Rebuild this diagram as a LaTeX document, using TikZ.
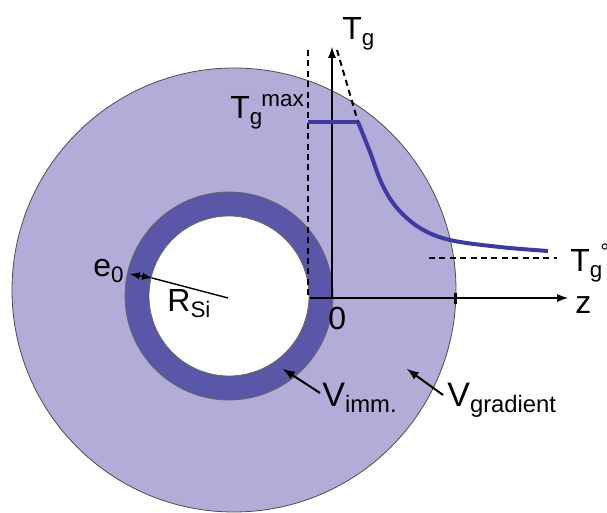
\documentclass[tikz,border=0pt]{standalone}
\usepackage{fontspec}
\setmainfont{Liberation Sans}
\usepackage{tikz}
\usetikzlibrary{shapes,arrows,positioning}
\definecolor{gradfill}{RGB}{178,172,216}
\definecolor{immfill}{RGB}{90,86,168}
\definecolor{profile}{RGB}{62,58,160}
\newcommand{\lbl}{\fontsize{16}{19}\selectfont}
\newcommand{\lblbig}{\fontsize{17}{20}\selectfont}

\begin{document}
\begin{tikzpicture}[x=0.5pt,y=-0.5pt,
  lab/.style={anchor=base west,inner sep=0pt,font=\lbl},
  vlab/.style={anchor=base west,inner sep=0pt,font=\lblbig},
  pointer/.style={line width=1pt,-{latex}},
  axis/.style={line width=0.9pt,-{latex}},
  guide/.style={line width=1pt,dash pattern=on 3pt off 2.2pt}]
\useasboundingbox (0,0) rectangle (607,513);
% volumes
\fill[gradfill] (234,290) circle[radius=111pt];
\draw[black!70,line width=0.4pt] (234,290) circle[radius=111pt];
\fill[immfill] (229,296) circle[radius=52pt];
\fill[white] (229,296) circle[radius=40pt];
\draw[black!60,line width=0.4pt] (229,296) circle[radius=52pt];
\draw[black!60,line width=0.4pt] (229,296) circle[radius=40pt];
% axes
\coordinate (origin) at (332,298);
\coordinate (zstart) at (310,298);
\coordinate (zend) at (568,298);
\coordinate (tend) at (332,47);
\draw[axis] (zstart) -- (zend);
\draw[axis] (origin) -- (tend);
\draw[line width=1.5pt] (455,293) -- (455,304);
% guides
\draw[guide] (308,50) -- (308,298);
\draw[guide] (337,50) -- (358,122);
\draw[guide] (429,258) -- (557,258);
% profile
\draw[profile,line width=2pt] (308,122) -- (358,122);
\draw[profile,line width=2pt] plot[smooth,tension=0.6] coordinates
  {(358,122) (370,152) (382,184) (397,208) (420,228) (450,240) (500,247) (548,251)};
% labels
\node[lab] (tg) at (342,40) {T\textsubscript{g}};
\node[lab] (tgmax) at (230,119) {T\textsubscript{g}\kern-1pt\textsuperscript{max}};
\node[lab] (tginf) at (570,272) {T\textsubscript{g}\kern-1.5pt\textsuperscript{°}};
\node[lab] (z) at (575,314) {z};
\node[lab] (zero) at (328,330) {0};
\node[lab] (e0) at (93,277) {e\textsubscript{0}};
\node[lab] (rsi) at (167,312) {R\textsubscript{Si}};
\node[vlab] (vimm) at (322,407) {V\textsubscript{imm.}};
\node[vlab] (vgrad) at (447,407) {V\textsubscript{gradient}};
% thickness and radius
\coordinate (ringout) at (130,274);
\coordinate (ringin) at (152,278);
\coordinate (centre) at (228,298);
\draw[line width=0.7pt,{latex}-{latex}] (ringout) -- (ringin);
\draw[line width=0.7pt] (ringin) -- (centre);
% pointers
\coordinate (immtip) at (283,369);
\coordinate (immtail) at (320,393);
\coordinate (gradtip) at (407,369);
\coordinate (gradtail) at (443,395);
\draw[pointer] (immtail) -- (immtip);
\draw[pointer] (gradtail) -- (gradtip);
\end{tikzpicture}
\end{document}
